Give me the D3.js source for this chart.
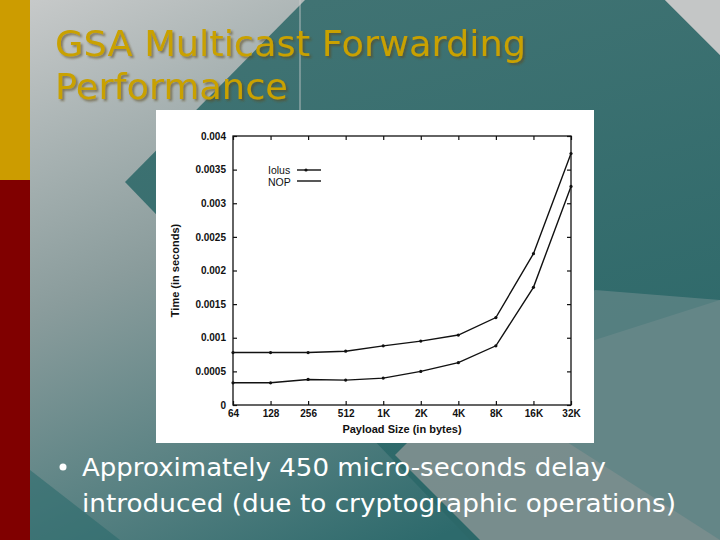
<!DOCTYPE html>
<html><head><meta charset="utf-8">
<script src="https://cdn.jsdelivr.net/npm/d3@7"></script>
<style>body{margin:0;}svg{display:block;}</style>
</head><body>
<svg id="s" width="720" height="540"></svg>
<script>
const categories = ["64","128","256","512","1K","2K","4K","8K","16K","32K"];
const iolus = [0.00078,0.00078,0.00078,0.0008,0.00088,0.00095,0.00104,0.0013,0.00225,0.00374];
const nop = [0.00033,0.00033,0.00038,0.00037,0.0004,0.0005,0.00063,0.00088,0.00175,0.00325];
const yTicks = [0,0.0005,0.001,0.0015,0.002,0.0025,0.003,0.0035,0.004];
const yTickLabels = ["0","0.0005","0.001","0.0015","0.002","0.0025","0.003","0.0035","0.004"];

const svg = d3.select("#s");
const defs = svg.append("defs");
const g1 = defs.append("linearGradient").attr("id","bg").attr("x1",0).attr("y1",0).attr("x2",0.6).attr("y2",1);
g1.append("stop").attr("offset","0").attr("stop-color","#c9cbcb");
g1.append("stop").attr("offset","0.45").attr("stop-color","#8a9c9c");
g1.append("stop").attr("offset","1").attr("stop-color","#2d6a6c");
const g2 = defs.append("linearGradient").attr("id","tl").attr("x1",0).attr("y1",0).attr("x2",0.3).attr("y2",1);
g2.append("stop").attr("offset","0").attr("stop-color","#427474");
g2.append("stop").attr("offset","1").attr("stop-color","#2c6869");
const f = defs.append("filter").attr("id","sh").attr("x","-5%").attr("y","-5%").attr("width","110%").attr("height","120%");
f.append("feDropShadow").attr("dx",2).attr("dy",2).attr("stdDeviation",0.8).attr("flood-color","#5a4a20").attr("flood-opacity",0.6);
svg.append("rect").attr("width",720).attr("height",540).attr("fill","url(#bg)");
svg.append("polygon").attr("points","125,182 305,0 665,0 720,55 720,540 470,540").attr("fill","url(#tl)");
svg.append("polygon").attr("points","665,0 720,0 720,55").attr("fill","#c4c6c6");
svg.append("polygon").attr("points","395,455 470,380 720,300 720,540 480,540").attr("fill","#8c9696").attr("opacity",0.8);
svg.append("polygon").attr("points","470,380 595,290 720,300 720,540").attr("fill","#5f8486").attr("opacity",0.8);
svg.append("polygon").attr("points","30,540 30,470 120,540").attr("fill","#2c6a6c").attr("opacity",0.6);
svg.append("line").attr("x1",300).attr("y1",0).attr("x2",300).attr("y2",110).attr("stroke","#d0d0d0").attr("stroke-width",0.8);
svg.append("rect").attr("x",0).attr("y",0).attr("width",30).attr("height",180).attr("fill","#cc9c00");
svg.append("rect").attr("x",0).attr("y",180).attr("width",30).attr("height",360).attr("fill","#800000");

const title = svg.append("g").attr("font-family","DejaVu Sans, sans-serif").attr("font-size",35).attr("filter","url(#sh)").attr("fill","#c9a100");
title.append("text").attr("x",55).attr("y",56).attr("textLength",471).attr("lengthAdjust","spacingAndGlyphs").text("GSA Multicast Forwarding");
title.append("text").attr("x",55).attr("y",99).attr("textLength",233).attr("lengthAdjust","spacingAndGlyphs").text("Performance");

svg.append("rect").attr("x",156).attr("y",110).attr("width",438).attr("height",333).attr("fill","#fff");
const L=233,R=571,T=136,B=405;
const x = d3.scalePoint().domain(categories).range([L,R]);
const y = d3.scaleLinear().domain([0,0.004]).range([B,T]);
const ch = svg.append("g").attr("font-family","Liberation Sans, Arial, sans-serif").attr("font-weight","bold").attr("fill","#111");
ch.append("rect").attr("x",L).attr("y",T).attr("width",R-L).attr("height",B-T).attr("fill","none").attr("stroke","#111").attr("stroke-width",1.3);
ch.append("g").attr("transform",`translate(${L},0)`).call(d3.axisLeft(y).tickValues(yTicks).tickFormat((d,i)=>yTickLabels[i]).tickSizeInner(-4).tickSizeOuter(0).tickPadding(7));
ch.append("g").attr("transform",`translate(${R},0)`).call(d3.axisRight(y).tickValues(yTicks).tickFormat("").tickSizeInner(-4).tickSizeOuter(0));
ch.append("g").attr("transform",`translate(0,${B})`).call(d3.axisBottom(x).tickSizeInner(-4).tickSizeOuter(0).tickPadding(5));
ch.append("g").attr("transform",`translate(0,${T})`).call(d3.axisTop(x).tickFormat("").tickSizeInner(-4).tickSizeOuter(0));
ch.selectAll(".domain").remove();
ch.selectAll(".tick line").attr("stroke","#111").attr("stroke-width",1.2);
ch.selectAll(".tick text").attr("font-size",10).attr("font-weight","bold").attr("font-family","Liberation Sans, Arial, sans-serif").attr("fill","#111");
ch.append("text").attr("x",(L+R)/2).attr("y",433).attr("text-anchor","middle").attr("font-size",11).text("Payload Size (in bytes)");
ch.append("text").attr("transform",`translate(179,${(T+B)/2}) rotate(-90)`).attr("text-anchor","middle").attr("font-size",11).text("Time (in seconds)");
const line = d3.line().x((d,i)=>x(categories[i])).y(d=>y(d));
[iolus,nop].forEach(s=>{
  ch.append("path").attr("d",line(s)).attr("fill","none").attr("stroke","#111").attr("stroke-width",1.4);
  ch.selectAll(null).data(s).enter().append("circle").attr("cx",(d,i)=>x(categories[i])).attr("cy",d=>y(d)).attr("r",1.6).attr("fill","#111");
});
ch.append("text").attr("x",268).attr("y",174).attr("font-size",10.5).attr("font-weight","normal").text("Iolus");
ch.append("text").attr("x",268).attr("y",186).attr("font-size",10.5).attr("font-weight","normal").text("NOP");
ch.append("line").attr("x1",297).attr("x2",321).attr("y1",170).attr("y2",170).attr("stroke","#111").attr("stroke-width",1.4);
ch.append("circle").attr("cx",306).attr("cy",170).attr("r",1.6);
ch.append("line").attr("x1",297).attr("x2",321).attr("y1",181).attr("y2",181).attr("stroke","#111").attr("stroke-width",1.4);

const bt = svg.append("g").attr("font-family","DejaVu Sans, sans-serif").attr("font-size",25).attr("fill","#fff");
bt.append("circle").attr("cx",63).attr("cy",467).attr("r",3.5).attr("fill","#fff");
bt.append("text").attr("x",82).attr("y",476).attr("textLength",524).attr("lengthAdjust","spacingAndGlyphs").text("Approximately 450 micro-seconds delay");
bt.append("text").attr("x",82).attr("y",512).attr("textLength",594).attr("lengthAdjust","spacingAndGlyphs").text("introduced (due to cryptographic operations)");
</script>
</body></html>
